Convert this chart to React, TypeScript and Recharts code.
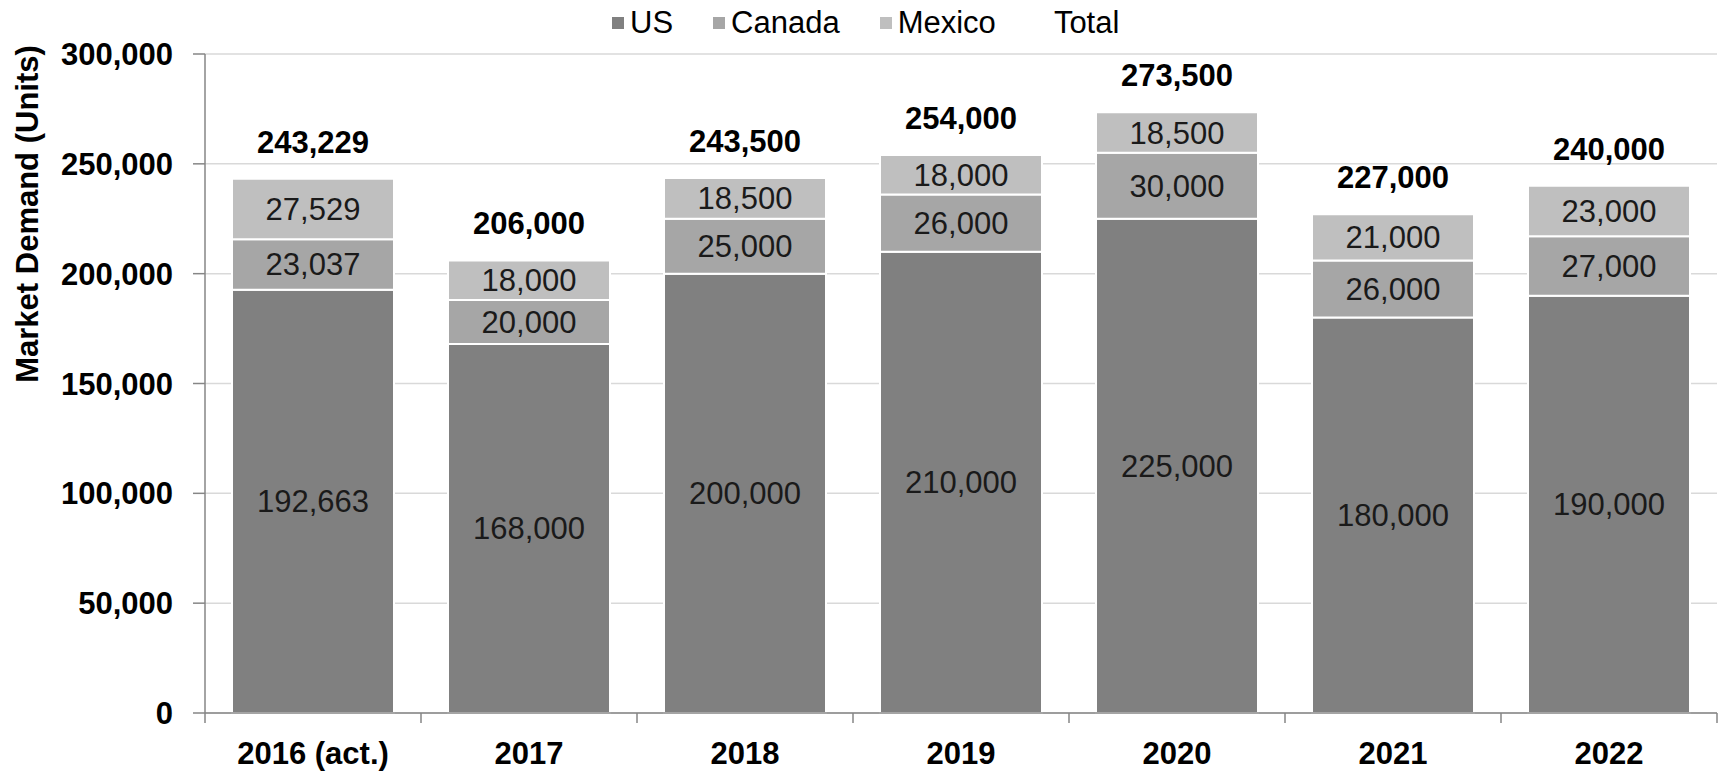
import React from "react";
import {
  ComposedChart,
  Bar,
  Line,
  XAxis,
  YAxis,
  CartesianGrid,
  Legend,
  LabelList,
  Label,
} from "recharts";

const years = ["2016 (act.)", "2017", "2018", "2019", "2020", "2021", "2022"];
const us = [192663, 168000, 200000, 210000, 225000, 180000, 190000];
const canada = [23037, 20000, 25000, 26000, 30000, 26000, 27000];
const mexico = [27529, 18000, 18500, 18000, 18500, 21000, 23000];
const totals = [243229, 206000, 243500, 254000, 273500, 227000, 240000];
const yTicks = [0, 50000, 100000, 150000, 200000, 250000, 300000];

const legendItems = [
  { name: "US", color: "#808080" },
  { name: "Canada", color: "#a6a6a6" },
  { name: "Mexico", color: "#bfbfbf" },
  { name: "Total", color: "transparent" },
];

const data = years.map((year, i) => ({
  year,
  us: us[i],
  canada: canada[i],
  mexico: mexico[i],
  total: totals[i],
}));

const FONT = '"Liberation Sans", Arial, sans-serif';
const AXIS = "#868686";
const fmt = (v: any) => Number(v).toLocaleString("en-US");

function YearTick(props: any) {
  const { x, y, payload, index, width } = props;
  const half = payload?.offset || width / years.length / 2;
  return (
    <g>
      <line x1={x - half} x2={x - half} y1={y} y2={y + 10} stroke={AXIS} strokeWidth={1.5} />
      {index === years.length - 1 && (
        <line x1={x + half} x2={x + half} y1={y} y2={y + 10} stroke={AXIS} strokeWidth={1.5} />
      )}
      <text
        x={x}
        y={y + 29}
        dy="0.71em"
        textAnchor="middle"
        fontSize={31}
        fontWeight="bold"
        fill="#000"
        fontFamily={FONT}
      >
        {payload.value}
      </text>
    </g>
  );
}

function LegendRow() {
  return (
    <div style={{ display: "flex", alignItems: "center", fontSize: 31, fontFamily: FONT, color: "#000" }}>
      {legendItems.map((item) => (
        <div key={item.name} style={{ display: "flex", alignItems: "center", marginRight: 40 }}>
          <span style={{ width: 12, height: 12, background: item.color, marginRight: 6, display: "inline-block" }} />
          <span>{item.name}</span>
        </div>
      ))}
    </div>
  );
}

export default function App() {
  return (
    <div style={{ position: "absolute", left: 0, top: 0, background: "#fff" }}>
      <ComposedChart
        width={1720}
        height={771}
        data={data}
        margin={{ top: 18, right: 3, left: 0, bottom: 0 }}
        barCategoryGap="12.5%"
        style={{ fontFamily: FONT }}
      >
        <CartesianGrid vertical={false} stroke="#d9d9d9" strokeWidth={1.5} />
        <Legend
          verticalAlign="top"
          align="left"
          content={() => <LegendRow />}
          wrapperStyle={{ left: 612, top: 5, width: 600 }}
        />
        <XAxis
          dataKey="year"
          height={58}
          tickLine={false}
          tickSize={0}
          tickMargin={0}
          stroke={AXIS}
          strokeWidth={1.5}
          interval={0}
          tick={<YearTick />}
        />
        <YAxis
          width={205}
          domain={[0, 300000]}
          ticks={yTicks}
          tickFormatter={fmt}
          tickSize={12}
          tickMargin={20}
          stroke={AXIS}
          strokeWidth={1.5}
          tick={{ fontSize: 31, fontWeight: "bold", fill: "#000" }}
        >
          <Label
            content={() => (
              <text
                transform="translate(27,214) rotate(-90)"
                textAnchor="middle"
                dominantBaseline="central"
                fontSize={31}
                fontWeight="bold"
                fill="#000"
                fontFamily={FONT}
              >
                Market Demand (Units)
              </text>
            )}
          />
        </YAxis>
        <Bar dataKey="us" name="US" stackId="a" fill="#808080" stroke="#fff" strokeWidth={2} isAnimationActive={false}>
          <LabelList dataKey="us" position="center" formatter={fmt} fontSize={31} fill="#1a1a1a" />
        </Bar>
        <Bar dataKey="canada" name="Canada" stackId="a" fill="#a6a6a6" stroke="#fff" strokeWidth={2} isAnimationActive={false}>
          <LabelList dataKey="canada" position="center" formatter={fmt} fontSize={31} fill="#1a1a1a" />
        </Bar>
        <Bar dataKey="mexico" name="Mexico" stackId="a" fill="#bfbfbf" stroke="#fff" strokeWidth={2} isAnimationActive={false}>
          <LabelList dataKey="mexico" position="center" formatter={fmt} fontSize={31} fill="#1a1a1a" />
        </Bar>
        <Line
          dataKey="total"
          name="Total"
          stroke="none"
          dot={false}
          activeDot={false}
          isAnimationActive={false}
        >
          <LabelList dataKey="total" position="top" offset={26} formatter={fmt} fontSize={31} fontWeight="bold" fill="#000" />
        </Line>
      </ComposedChart>
    </div>
  );
}
